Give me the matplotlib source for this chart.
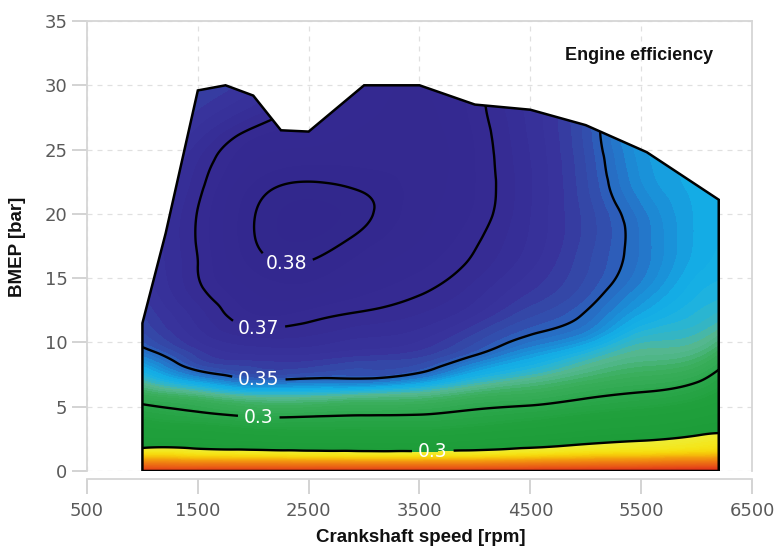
import numpy as np
import matplotlib
matplotlib.use("Agg")
import matplotlib.pyplot as plt
import matplotlib.tri as mtri
from matplotlib.colors import LinearSegmentedColormap, Normalize
from matplotlib.patches import Polygon

# ---------------- data ----------------
rpm_grid = [1000, 1500, 2000, 2500, 3000, 3500, 4000, 4500, 5000, 5500, 6000, 6200]
bmep_grid = [0, 1, 2, 3, 4, 5, 6, 7, 8, 9, 10, 12, 14, 16, 18, 20, 22, 24, 26, 28, 30, 32]

# estimated efficiency at each bmep_grid value, one list per speed
eff_1000 = [0.05, 0.195, 0.258, 0.273, 0.286, 0.298, 0.31, 0.323, 0.335, 0.345, 0.352, 0.357, 0.36, 0.362, 0.362, 0.362, 0.36, 0.358, 0.355, 0.352, 0.35, 0.348]
eff_1500 = [0.05, 0.2, 0.258, 0.277, 0.292, 0.304, 0.318, 0.338, 0.352, 0.358, 0.362, 0.366, 0.369, 0.37, 0.3704, 0.3702, 0.369, 0.3675, 0.364, 0.36, 0.356, 0.352]
eff_2000 = [0.05, 0.202, 0.262, 0.282, 0.297, 0.31, 0.326, 0.348, 0.357, 0.362, 0.366, 0.372, 0.375, 0.378, 0.3797, 0.3797, 0.378, 0.375, 0.372, 0.366, 0.362, 0.358]
eff_2500 = [0.05, 0.205, 0.265, 0.284, 0.297, 0.31, 0.326, 0.347, 0.357, 0.362, 0.366, 0.371, 0.376, 0.3795, 0.3825, 0.3835, 0.381, 0.377, 0.374, 0.372, 0.37, 0.368]
eff_3000 = [0.05, 0.207, 0.266, 0.284, 0.296, 0.308, 0.323, 0.347, 0.355, 0.36, 0.364, 0.369, 0.373, 0.376, 0.3787, 0.3808, 0.3795, 0.377, 0.3755, 0.3745, 0.374, 0.373]
eff_3500 = [0.05, 0.207, 0.266, 0.284, 0.296, 0.307, 0.32, 0.34, 0.353, 0.358, 0.362, 0.367, 0.3705, 0.373, 0.375, 0.376, 0.3765, 0.3765, 0.376, 0.3755, 0.375, 0.374]
eff_4000 = [0.05, 0.205, 0.262, 0.28, 0.293, 0.302, 0.313, 0.327, 0.34, 0.35, 0.355, 0.362, 0.3662, 0.369, 0.3706, 0.372, 0.3725, 0.3725, 0.3722, 0.3715, 0.371, 0.3705]
eff_4500 = [0.045, 0.198, 0.255, 0.274, 0.288, 0.299, 0.309, 0.319, 0.33, 0.339, 0.347, 0.355, 0.36, 0.363, 0.3645, 0.365, 0.3652, 0.365, 0.3645, 0.364, 0.3635, 0.363]
eff_5000 = [0.04, 0.19, 0.248, 0.267, 0.281, 0.294, 0.303, 0.312, 0.32, 0.328, 0.338, 0.349, 0.3535, 0.3555, 0.3565, 0.3565, 0.3555, 0.3548, 0.354, 0.3535, 0.353, 0.3525]
eff_5500 = [0.035, 0.185, 0.243, 0.262, 0.276, 0.289, 0.299, 0.307, 0.314, 0.32, 0.325, 0.336, 0.343, 0.3465, 0.347, 0.346, 0.343, 0.3415, 0.34, 0.339, 0.338, 0.337]
eff_6000 = [0.03, 0.178, 0.236, 0.254, 0.268, 0.281, 0.292, 0.301, 0.309, 0.316, 0.322, 0.329, 0.333, 0.336, 0.337, 0.337, 0.3365, 0.336, 0.335, 0.334, 0.333, 0.332]
eff_6200 = [0.03, 0.175, 0.232, 0.251, 0.264, 0.275, 0.285, 0.293, 0.301, 0.309, 0.316, 0.326, 0.331, 0.334, 0.335, 0.335, 0.3345, 0.334, 0.333, 0.332, 0.331, 0.33]

# operating range boundary (full-load curve)
boundary_rpm = [1000, 1000, 1210, 1500, 1750, 2000, 2250, 2500, 3000, 3500, 4000, 4500, 5000, 5550, 6200, 6200]
boundary_bmep = [0, 11.5, 18.5, 29.6, 30.0, 29.2, 26.5, 26.4, 30.0, 30.0, 28.5, 28.1, 26.9, 24.8, 21.1, 0]

contour_levels = [0.25, 0.3, 0.35, 0.37, 0.38]
contour_texts = ["0.3", "0.3", "0.35", "0.37", "0.38"]
label_rpm = [2300, 2050, 2050, 2050, 3620]
label_bmep = [16.0, 11.4, 7.1, 4.3, 1.55]

x_ticks = [500, 1500, 2500, 3500, 4500, 5500, 6500]
y_ticks = [0, 5, 10, 15, 20, 25, 30, 35]

# ---------------- colour map ----------------
cmap_nodes = [
    (0.000, "#d41c0c"), (0.060, "#e0361a"), (0.100, "#e85416"), (0.150, "#ee7812"),
    (0.185, "#f39a0e"), (0.205, "#f5bc0a"), (0.220, "#f6d60c"), (0.235, "#f4e61a"),
    (0.2495, "#eeec34"),
    (0.2505, "#1c9c38"), (0.285, "#20a03c"), (0.300, "#2aa64a"), (0.312, "#3aae5c"),
    (0.322, "#56b894"), (0.330, "#22b4dc"), (0.336, "#14aee6"), (0.343, "#1a90d8"),
    (0.350, "#2a66c0"), (0.356, "#3448a8"), (0.362, "#38339c"), (0.372, "#352a92"),
    (0.390, "#30268a"),
]
vmin, vmax = 0.0, 0.39
cmap = LinearSegmentedColormap.from_list(
    "eff", [((v - vmin) / (vmax - vmin), c) for v, c in cmap_nodes])

# ---------------- field ----------------
Z = np.column_stack([eff_1000, eff_1500, eff_2000, eff_2500, eff_3000, eff_3500,
                     eff_4000, eff_4500, eff_5000, eff_5500, eff_6000, eff_6200])
X, Y = np.meshgrid(rpm_grid, bmep_grid)
nr, nc = Z.shape
tris = []
for i in range(nr - 1):
    for j in range(nc - 1):
        a = i * nc + j
        tris.append([a, a + 1, a + nc + 1])
        tris.append([a, a + nc + 1, a + nc])
triang = mtri.Triangulation(X.ravel(), Y.ravel(), np.array(tris))
interp = mtri.CubicTriInterpolator(triang, Z.ravel(), kind="min_E")
xi = np.linspace(rpm_grid[0] + 0.01, rpm_grid[-1] - 0.01, 600)
yi = np.linspace(bmep_grid[0] + 0.001, bmep_grid[-1] - 0.001, 400)
XI, YI = np.meshgrid(xi, yi)
ZI = interp(XI, YI)

# ---------------- figure ----------------
fig = plt.figure(figsize=(7.79, 5.48), dpi=100)
ax = fig.add_axes([87 / 779, 77 / 548, 665 / 779, 450 / 548])
ax.set_xlim(500, 6500)
ax.set_ylim(0, 35)

poly = Polygon(np.column_stack([boundary_rpm, boundary_bmep]), closed=True,
               facecolor="none", edgecolor="black", linewidth=1.8, zorder=5)
ax.add_patch(poly)

levels = np.linspace(vmin, vmax, 157)
cf = ax.contourf(XI, YI, ZI, levels=levels, cmap=cmap,
                 norm=Normalize(vmin, vmax), extend="both", zorder=2)
cf.set_clip_path(poly)

cl = ax.contour(XI, YI, ZI, levels=contour_levels, colors="black",
                linewidths=1.7, zorder=4)
cl.set_clip_path(poly)
fmt = {lv: t for lv, t in zip(contour_levels, contour_texts)}
txts = ax.clabel(cl, levels=contour_levels, fmt=fmt, inline=True, inline_spacing=6,
                 fontsize=13.5, colors="white",
                 manual=list(zip(label_rpm, label_bmep)))
for t in txts:
    t.set_zorder(6)
    t.set_rotation(0)
    t.set_fontweight("medium")

ax.set_xticks(x_ticks)
ax.set_yticks(y_ticks)
ax.grid(True, color="#e0e0e0", linestyle=(0, (4, 4)), linewidth=0.9)
ax.set_axisbelow(True)
for s in ax.spines.values():
    s.set_color("#d6d6d6")
    s.set_linewidth(1.3)
ax.spines["bottom"].set_position(("outward", 6))
ax.tick_params(axis="both", length=11, width=1.2, color="#cccccc",
               labelcolor="#5a5a5a", labelsize=13)
ax.tick_params(axis="y", pad=3)
ax.tick_params(axis="x", pad=5)

lab_font = ["Liberation Sans Narrow", "Liberation Sans"]
fig.text(18 / 779, 1 - 247 / 548, "BMEP [bar]", rotation=90, ha="center", va="center",
         fontsize=13.5, fontweight="bold", family=lab_font, color="#111111")
fig.text(421 / 779, 1 - 538 / 548, "Crankshaft speed [rpm]", ha="center", va="center",
         fontsize=13.5, fontweight="bold", family=lab_font, color="#111111")
ax.text(713 / 779, 1 - 55 / 548, "Engine efficiency", transform=fig.transFigure,
        ha="right", va="center", fontsize=13, fontweight="bold", family=lab_font,
        color="#111111", zorder=7)

fig.savefig("out.png", dpi=100)
